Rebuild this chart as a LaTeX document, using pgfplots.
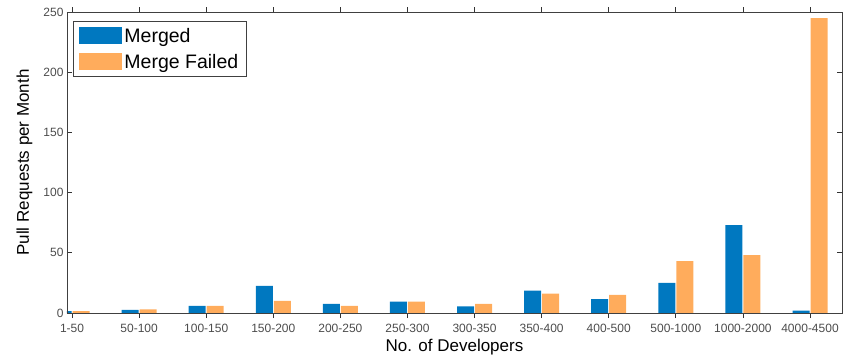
\documentclass[border=0pt]{standalone}
\usepackage{pgfplots}
\pgfplotsset{compat=1.18}
\usepackage{fontspec}
\setmainfont{Liberation Sans}
\definecolor{mblue}{RGB}{0,120,192}
\definecolor{morange}{RGB}{255,172,92}
\begin{document}
\begin{tikzpicture}
\useasboundingbox (-67pt,-47pt) rectangle (776pt,313pt);
\begin{axis}[
  at={(0pt,0pt)}, anchor=south west,
  scale only axis, width=775pt, height=301pt,
  ybar=1pt, bar width=17pt,
  xmin=0.925, xmax=12.477, ymin=0, ymax=250,
  xtick={1,...,12},
  xticklabels={1-50,50-100,100-150,150-200,200-250,250-300,300-350,350-400,400-500,500-1000,1000-2000,4000-4500},
  ytick={0,50,100,150,200,250},
  tick label style={font=\fontsize{12}{14}\selectfont, text=black!70},
  xticklabel style={yshift=-3pt},
  /pgf/number format/assume math mode=true,
  major tick length=5pt,
  tick style={black!80, line width=0.8pt},
  axis line style={black!75, line width=0.9pt},
  axis on top=true,
  every axis x label/.style={at={(axis description cs:0.5,-0.113)}, anchor=center},
  every axis y label/.style={at={(axis description cs:-0.055,0.5)}, rotate=90, anchor=center},
  label style={font=\fontsize{17}{20}\selectfont},
  xlabel={No. of Developers},
  ylabel={Pull Requests per Month},
  legend style={at={(axis description cs:0.0077,0.970)}, anchor=north west,
    font=\fontsize{19.5}{22}\selectfont, draw=black!75, line width=0.9pt,
    row sep=6pt, inner xsep=6pt, inner ysep=5pt,
    /tikz/every even column/.append style={column sep=3pt}},
  legend cell align=left,
]
\addplot[fill=mblue, draw=none,
  legend image code/.code={\fill[mblue] (0pt,-8pt) rectangle (43pt,9pt);}]
  coordinates {(1,1.5) (2,2.5) (3,6) (4,22.5) (5,7.5) (6,9.5) (7,5.5) (8,18.5) (9,11.5) (10,25) (11,73) (12,2)};
\addplot[fill=morange, draw=none,
  legend image code/.code={\fill[morange] (0pt,-8pt) rectangle (43pt,9pt);}]
  coordinates {(1,1.5) (2,3) (3,6) (4,10) (5,6) (6,9.5) (7,7.5) (8,16) (9,15) (10,43) (11,48) (12,245)};
\legend{Merged, Merge Failed}
\end{axis}
\end{tikzpicture}
\end{document}
